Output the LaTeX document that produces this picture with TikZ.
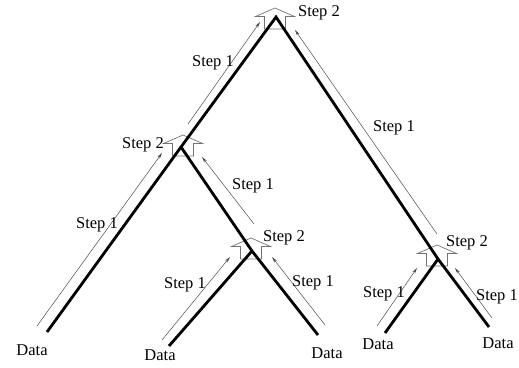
\documentclass[tikz,border=0pt]{standalone}
\usepackage{fontspec}
\setmainfont{Liberation Serif}
\usetikzlibrary{arrows.meta}
\begin{document}
\begin{tikzpicture}[x=1pt,y=-1pt,
  thick line/.style={line width=2.8pt, line join=miter},
  flow/.style={draw=black!70, line width=0.5pt, -{Stealth[length=6pt,width=3pt]}},
  lbl/.style={font=\fontsize{16.5}{19}\selectfont, inner sep=0pt},
  pics/hollowarrow/.style={code={
    \draw[black!55, line width=0.7pt, line join=miter]
      (0,0) -- (19.5,8.5) -- (10.5,8.5) -- (10.5,21) -- (-10.5,21) -- (-10.5,8.5) -- (-19.5,8.5) -- cycle;
  }}]
\useasboundingbox (0,0) rectangle (519,367);
% junctions and leaves
\coordinate (R) at (276,17);
\coordinate (A) at (181,147);
\coordinate (B) at (252,251);
\coordinate (C) at (438,259);
\coordinate (L1) at (47,332);
\coordinate (L2) at (169,346);
\coordinate (L3) at (318,335);
\coordinate (L4) at (385,333);
\coordinate (L5) at (489,327);
% hollow arrows
\pic at (275,8) {hollowarrow};
\pic at (183,135) {hollowarrow};
\pic at (251,238) {hollowarrow};
\pic at (437,245) {hollowarrow};
% tree
\draw[thick line] (L1) -- (A) -- (R) -- (C) -- (L5);
\draw[thick line] (A) -- (B) -- (L3);
\draw[thick line] (L2) -- (B);
\draw[thick line] (L4) -- (C);
% thin flow arrows
\coordinate (s1) at (37,326);  \coordinate (e1) at (162,153);
\coordinate (s2) at (188,124); \coordinate (e2) at (260,22);
\coordinate (s3) at (437,234); \coordinate (e3) at (295,30);
\coordinate (s4) at (254,224); \coordinate (e4) at (202,157);
\coordinate (s5) at (162,340); \coordinate (e5) at (230,257);
\coordinate (s6) at (325,325); \coordinate (e6) at (272,257);
\coordinate (s7) at (377,326); \coordinate (e7) at (417,268);
\coordinate (s8) at (492,318); \coordinate (e8) at (455,268);
\draw[flow] (s1) -- (e1);
\draw[flow] (s2) -- (e2);
\draw[flow] (s3) -- (e3);
\draw[flow] (s4) -- (e4);
\draw[flow] (s5) -- (e5);
\draw[flow] (s6) -- (e6);
\draw[flow] (s7) -- (e7);
\draw[flow] (s8) -- (e8);
% labels
\node[lbl] (t1) at (319,13) {Step 2};
\node[lbl] (t2) at (143,145) {Step 2};
\node[lbl] (t3) at (284,238) {Step 2};
\node[lbl] (t4) at (467,243) {Step 2};
\node[lbl] (u1) at (213,63) {Step 1};
\node[lbl] (u2) at (394,128) {Step 1};
\node[lbl] (u3) at (253,186) {Step 1};
\node[lbl] (u4) at (97,225) {Step 1};
\node[lbl] (u5) at (185,285) {Step 1};
\node[lbl] (u6) at (313,283) {Step 1};
\node[lbl] (u7) at (384,294) {Step 1};
\node[lbl] (u8) at (497,297) {Step 1};
\node[lbl] (d1) at (32,350) {Data};
\node[lbl] (d2) at (160,355) {Data};
\node[lbl] (d3) at (327,353) {Data};
\node[lbl] (d4) at (378,344) {Data};
\node[lbl] (d5) at (498,343) {Data};
\end{tikzpicture}
\end{document}
